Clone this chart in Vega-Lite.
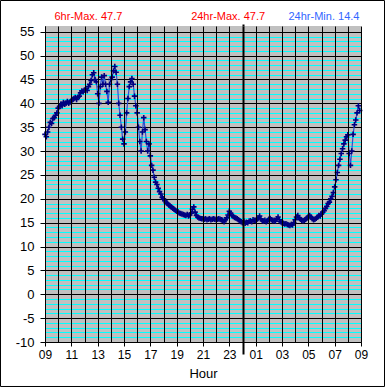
{
  "$schema": "https://vega.github.io/schema/vega-lite/v6.json",
  "width": 316,
  "height": 316,
  "autosize": {"type": "none"},
  "padding": {"left": 45, "top": 26, "right": 24, "bottom": 46},
  "background": "white",
  "config": {"view": {"fill": "#C0C0C0", "stroke": null}, "font": "Liberation Sans"},
  "datasets": {
    "frame": [{}],
    "obs": [
      {"hour": 0.0, "temp": 33.5}, {"hour": 0.1, "temp": 33.0}, {"hour": 0.2, "temp": 34.0}, {"hour": 0.3, "temp": 35.0}, {"hour": 0.4, "temp": 36.0},
      {"hour": 0.5, "temp": 35.8}, {"hour": 0.6, "temp": 36.8}, {"hour": 0.7, "temp": 37.0}, {"hour": 0.8, "temp": 37.5}, {"hour": 0.9, "temp": 38.0},
      {"hour": 1.0, "temp": 39.0}, {"hour": 1.1, "temp": 39.3}, {"hour": 1.2, "temp": 39.8}, {"hour": 1.3, "temp": 39.5}, {"hour": 1.4, "temp": 40.2},
      {"hour": 1.5, "temp": 39.8}, {"hour": 1.6, "temp": 40.0}, {"hour": 1.7, "temp": 40.4}, {"hour": 1.8, "temp": 40.0}, {"hour": 1.9, "temp": 40.3},
      {"hour": 2.0, "temp": 40.5}, {"hour": 2.1, "temp": 40.8}, {"hour": 2.2, "temp": 41.0}, {"hour": 2.3, "temp": 41.2}, {"hour": 2.4, "temp": 40.8},
      {"hour": 2.5, "temp": 41.3}, {"hour": 2.6, "temp": 41.5}, {"hour": 2.7, "temp": 42.2}, {"hour": 2.8, "temp": 42.6}, {"hour": 2.9, "temp": 42.4},
      {"hour": 3.0, "temp": 42.8}, {"hour": 3.1, "temp": 43.0}, {"hour": 3.2, "temp": 42.7}, {"hour": 3.3, "temp": 43.5}, {"hour": 3.4, "temp": 44.0},
      {"hour": 3.5, "temp": 44.8}, {"hour": 3.6, "temp": 46.0}, {"hour": 3.7, "temp": 46.4}, {"hour": 3.8, "temp": 45.0}, {"hour": 3.9, "temp": 44.5},
      {"hour": 4.0, "temp": 42.0}, {"hour": 4.1, "temp": 40.0}, {"hour": 4.2, "temp": 43.5}, {"hour": 4.3, "temp": 45.5}, {"hour": 4.4, "temp": 44.0},
      {"hour": 4.5, "temp": 45.8}, {"hour": 4.6, "temp": 44.0}, {"hour": 4.7, "temp": 42.5}, {"hour": 4.8, "temp": 40.2}, {"hour": 4.9, "temp": 44.0},
      {"hour": 5.0, "temp": 45.0}, {"hour": 5.1, "temp": 45.5}, {"hour": 5.2, "temp": 46.8}, {"hour": 5.3, "temp": 47.7}, {"hour": 5.4, "temp": 46.5},
      {"hour": 5.5, "temp": 44.0}, {"hour": 5.6, "temp": 40.0}, {"hour": 5.7, "temp": 37.5}, {"hour": 5.8, "temp": 35.0}, {"hour": 5.9, "temp": 32.5},
      {"hour": 6.0, "temp": 31.5}, {"hour": 6.1, "temp": 34.0}, {"hour": 6.2, "temp": 38.0}, {"hour": 6.3, "temp": 41.0}, {"hour": 6.4, "temp": 43.5},
      {"hour": 6.5, "temp": 44.5}, {"hour": 6.6, "temp": 45.2}, {"hour": 6.7, "temp": 44.0}, {"hour": 6.8, "temp": 41.5}, {"hour": 6.9, "temp": 39.5},
      {"hour": 7.0, "temp": 38.0}, {"hour": 7.1, "temp": 35.0}, {"hour": 7.2, "temp": 32.0}, {"hour": 7.3, "temp": 30.0}, {"hour": 7.4, "temp": 34.0},
      {"hour": 7.5, "temp": 37.0}, {"hour": 7.6, "temp": 34.5}, {"hour": 7.7, "temp": 32.0}, {"hour": 7.8, "temp": 30.0}, {"hour": 7.9, "temp": 31.5},
      {"hour": 8.0, "temp": 29.0}, {"hour": 8.1, "temp": 27.0}, {"hour": 8.2, "temp": 26.0}, {"hour": 8.3, "temp": 24.5}, {"hour": 8.4, "temp": 23.5},
      {"hour": 8.5, "temp": 23.0}, {"hour": 8.6, "temp": 22.2}, {"hour": 8.7, "temp": 21.5}, {"hour": 8.8, "temp": 21.0}, {"hour": 8.9, "temp": 20.3},
      {"hour": 9.0, "temp": 20.0}, {"hour": 9.1, "temp": 19.6}, {"hour": 9.2, "temp": 19.2}, {"hour": 9.3, "temp": 19.0}, {"hour": 9.4, "temp": 18.7},
      {"hour": 9.5, "temp": 18.5}, {"hour": 9.6, "temp": 18.3}, {"hour": 9.7, "temp": 18.0}, {"hour": 9.8, "temp": 17.8}, {"hour": 9.9, "temp": 17.6},
      {"hour": 10.0, "temp": 17.4}, {"hour": 10.1, "temp": 17.3}, {"hour": 10.2, "temp": 17.0}, {"hour": 10.3, "temp": 16.9}, {"hour": 10.4, "temp": 16.8},
      {"hour": 10.5, "temp": 16.7}, {"hour": 10.6, "temp": 16.6}, {"hour": 10.7, "temp": 16.5}, {"hour": 10.8, "temp": 16.7}, {"hour": 10.9, "temp": 16.4},
      {"hour": 11.0, "temp": 16.6}, {"hour": 11.1, "temp": 17.0}, {"hour": 11.2, "temp": 17.8}, {"hour": 11.3, "temp": 18.3}, {"hour": 11.4, "temp": 17.2},
      {"hour": 11.5, "temp": 16.5}, {"hour": 11.6, "temp": 16.2}, {"hour": 11.7, "temp": 16.0}, {"hour": 11.8, "temp": 15.9}, {"hour": 11.9, "temp": 15.8},
      {"hour": 12.0, "temp": 15.8}, {"hour": 12.1, "temp": 15.7}, {"hour": 12.2, "temp": 15.8}, {"hour": 12.3, "temp": 15.6}, {"hour": 12.4, "temp": 15.7},
      {"hour": 12.5, "temp": 15.8}, {"hour": 12.6, "temp": 15.6}, {"hour": 12.7, "temp": 15.7}, {"hour": 12.8, "temp": 15.8}, {"hour": 12.9, "temp": 15.7},
      {"hour": 13.0, "temp": 15.6}, {"hour": 13.1, "temp": 15.7}, {"hour": 13.2, "temp": 15.8}, {"hour": 13.3, "temp": 15.7}, {"hour": 13.4, "temp": 15.6},
      {"hour": 13.5, "temp": 15.5}, {"hour": 13.6, "temp": 15.2}, {"hour": 13.7, "temp": 15.6}, {"hour": 13.8, "temp": 16.0}, {"hour": 13.9, "temp": 16.6},
      {"hour": 14.0, "temp": 17.4}, {"hour": 14.1, "temp": 17.0}, {"hour": 14.2, "temp": 16.5}, {"hour": 14.3, "temp": 16.3}, {"hour": 14.4, "temp": 16.1},
      {"hour": 14.5, "temp": 16.0}, {"hour": 14.6, "temp": 15.8}, {"hour": 14.7, "temp": 15.6}, {"hour": 14.8, "temp": 15.4}, {"hour": 14.9, "temp": 15.2},
      {"hour": 15.0, "temp": 15.0}, {"hour": 15.1, "temp": 15.3}, {"hour": 15.2, "temp": 14.9}, {"hour": 15.3, "temp": 15.1}, {"hour": 15.4, "temp": 15.0},
      {"hour": 15.5, "temp": 15.3}, {"hour": 15.6, "temp": 15.4}, {"hour": 15.7, "temp": 15.2}, {"hour": 15.8, "temp": 15.6}, {"hour": 15.9, "temp": 15.5},
      {"hour": 16.0, "temp": 15.4}, {"hour": 16.1, "temp": 15.7}, {"hour": 16.2, "temp": 16.0}, {"hour": 16.3, "temp": 16.4}, {"hour": 16.4, "temp": 15.8},
      {"hour": 16.5, "temp": 15.4}, {"hour": 16.6, "temp": 15.3}, {"hour": 16.7, "temp": 15.5}, {"hour": 16.8, "temp": 15.2}, {"hour": 16.9, "temp": 15.4},
      {"hour": 17.0, "temp": 15.7}, {"hour": 17.1, "temp": 15.9}, {"hour": 17.2, "temp": 15.6}, {"hour": 17.3, "temp": 15.4}, {"hour": 17.4, "temp": 15.5},
      {"hour": 17.5, "temp": 15.3}, {"hour": 17.6, "temp": 15.8}, {"hour": 17.7, "temp": 16.2}, {"hour": 17.8, "temp": 15.6}, {"hour": 17.9, "temp": 15.2},
      {"hour": 18.0, "temp": 15.0}, {"hour": 18.1, "temp": 14.9}, {"hour": 18.2, "temp": 14.7}, {"hour": 18.3, "temp": 14.8}, {"hour": 18.4, "temp": 14.6},
      {"hour": 18.5, "temp": 14.5}, {"hour": 18.6, "temp": 14.4}, {"hour": 18.7, "temp": 14.6}, {"hour": 18.8, "temp": 14.5}, {"hour": 18.9, "temp": 15.0},
      {"hour": 19.0, "temp": 15.6}, {"hour": 19.1, "temp": 16.2}, {"hour": 19.2, "temp": 16.5}, {"hour": 19.3, "temp": 16.0}, {"hour": 19.4, "temp": 15.7},
      {"hour": 19.5, "temp": 15.5}, {"hour": 19.6, "temp": 15.4}, {"hour": 19.7, "temp": 15.5}, {"hour": 19.8, "temp": 15.7}, {"hour": 19.9, "temp": 16.0},
      {"hour": 20.0, "temp": 16.3}, {"hour": 20.1, "temp": 16.5}, {"hour": 20.2, "temp": 16.2}, {"hour": 20.3, "temp": 15.8}, {"hour": 20.4, "temp": 15.6},
      {"hour": 20.5, "temp": 15.7}, {"hour": 20.6, "temp": 15.9}, {"hour": 20.7, "temp": 16.2}, {"hour": 20.8, "temp": 16.5}, {"hour": 20.9, "temp": 16.4},
      {"hour": 21.0, "temp": 16.8}, {"hour": 21.1, "temp": 17.2}, {"hour": 21.2, "temp": 17.5}, {"hour": 21.3, "temp": 18.0}, {"hour": 21.4, "temp": 18.4},
      {"hour": 21.5, "temp": 19.0}, {"hour": 21.6, "temp": 19.3}, {"hour": 21.7, "temp": 20.0}, {"hour": 21.8, "temp": 20.5}, {"hour": 21.9, "temp": 21.3},
      {"hour": 22.0, "temp": 22.5}, {"hour": 22.1, "temp": 24.0}, {"hour": 22.2, "temp": 25.5}, {"hour": 22.3, "temp": 27.0}, {"hour": 22.4, "temp": 28.3},
      {"hour": 22.5, "temp": 29.5}, {"hour": 22.6, "temp": 30.5}, {"hour": 22.7, "temp": 31.5}, {"hour": 22.8, "temp": 32.3}, {"hour": 22.9, "temp": 33.0},
      {"hour": 23.0, "temp": 33.4}, {"hour": 23.1, "temp": 29.5}, {"hour": 23.2, "temp": 27.0}, {"hour": 23.3, "temp": 30.0}, {"hour": 23.4, "temp": 33.5},
      {"hour": 23.5, "temp": 35.5}, {"hour": 23.6, "temp": 36.5}, {"hour": 23.7, "temp": 38.0}, {"hour": 23.8, "temp": 39.5}, {"hour": 23.9, "temp": 38.5}
    ]
  },
  "layer": [
    {
      "data": {"name": "obs"},
      "mark": {"type": "line", "stroke": "#3050d0", "strokeWidth": 1.2},
      "encoding": {
        "x": {
          "field": "hour", "type": "quantitative",
          "scale": {"domain": [0, 24], "nice": false, "zero": false},
          "axis": {
            "orient": "bottom",
            "zindex": 1,
            "values": [0,1,2,3,4,5,6,7,8,9,10,11,12,13,14,15,16,17,18,19,20,21,22,23,24],
            "grid": true, "gridColor": "black", "gridOpacity": 1,
            "gridWidth": {"condition": {"test": "datum.value == 15", "value": 2}, "value": 1},
            "domain": true, "domainColor": "black", "domainWidth": 1,
            "ticks": true, "tickColor": "black",
            "tickOpacity": {"condition": {"test": "datum.value % 2 == 0 || datum.value == 15", "value": 1}, "value": 0},
            "tickSize": {"condition": {"test": "datum.value == 15", "value": 12}, "value": 4},
            "tickWidth": {"condition": {"test": "datum.value == 15", "value": 2}, "value": 1},
            "labelExpr": "datum.value % 2 == 0 ? ((((9 + datum.value) % 24) < 10 ? '0' : '') + ((9 + datum.value) % 24)) : ''",
            "labelFontSize": 12, "labelColor": "black", "labelPadding": 3,
            "labelFlush": false, "labelOverlap": false,
            "title": "Hour", "titleFontSize": 13, "titleFontWeight": "normal", "titleColor": "black", "titlePadding": -1
          }
        },
        "y": {
          "field": "temp", "type": "quantitative",
          "scale": {"domain": [-10, 56.2], "nice": false, "zero": false},
          "axis": {
            "orient": "left",
            "values": [-10,-9,-8,-7,-6,-5,-4,-3,-2,-1,0,1,2,3,4,5,6,7,8,9,10,11,12,13,14,15,16,17,18,19,20,21,22,23,24,25,26,27,28,29,30,31,32,33,34,35,36,37,38,39,40,41,42,43,44,45,46,47,48,49,50,51,52,53,54,55],
            "grid": true,
            "gridColor": {"condition": {"test": "datum.value % 5 == 0", "value": "black"}, "value": "#00FFFF"},
            "gridOpacity": 1,
            "domain": true, "domainColor": "black",
            "tickColor": "black", "tickSize": 5,
            "tickOpacity": {"condition": {"test": "datum.value % 5 == 0", "value": 1}, "value": 0},
            "labelExpr": "datum.value % 5 == 0 ? '' + datum.value : ''",
            "labelFontSize": 13, "labelColor": "black", "labelPadding": 6,
            "labelFlush": false, "labelOverlap": false,
            "title": null
          }
        }
      }
    },
    {
      "data": {"name": "obs"},
      "mark": {"type": "point", "shape": "M-1,0L1,0M0,-1L0,1", "filled": false, "stroke": "#000080", "strokeWidth": 1.6, "size": 30, "opacity": 1},
      "encoding": {
        "x": {"field": "hour", "type": "quantitative", "axis": null},
        "y": {"field": "temp", "type": "quantitative", "axis": null}
      }
    },
    {
      "data": {"name": "obs"},
      "mark": {"type": "point", "opacity": 0},
      "encoding": {
        "x": {
          "field": "hour", "type": "quantitative",
          "axis": {
            "orient": "top",
            "values": [3.26, 13.87, 15, 21.15],
            "grid": false, "domain": false,
            "tickColor": "black", "tickWidth": 2, "tickSize": 2,
            "tickOpacity": {"condition": {"test": "datum.value == 15", "value": 1}, "value": 0},
            "labelExpr": "datum.value < 5 ? '6hr-Max. 47.7' : datum.value < 14 ? '24hr-Max. 47.7' : datum.value > 20 ? '24hr-Min. 14.4' : ''",
            "labelColor": {"condition": {"test": "datum.value > 20", "value": "#3366ff"}, "value": "#ff0000"},
            "labelFontSize": 11, "labelPadding": 5, "labelBaseline": "alphabetic",
            "labelOverlap": false, "labelFlush": false,
            "title": null
          }
        },
        "y": {"field": "temp", "type": "quantitative", "axis": null}
      }
    },
    {
      "data": {"name": "frame"},
      "mark": {"type": "rect", "fill": null, "stroke": "black", "strokeWidth": 1},
      "encoding": {
        "x": {"datum": -3.38, "axis": null},
        "x2": {"datum": 25.785},
        "y": {"datum": 61.54, "axis": null},
        "y2": {"datum": -19.32}
      }
    }
  ],
  "resolve": {"axis": {"x": "independent", "y": "independent"}}
}
